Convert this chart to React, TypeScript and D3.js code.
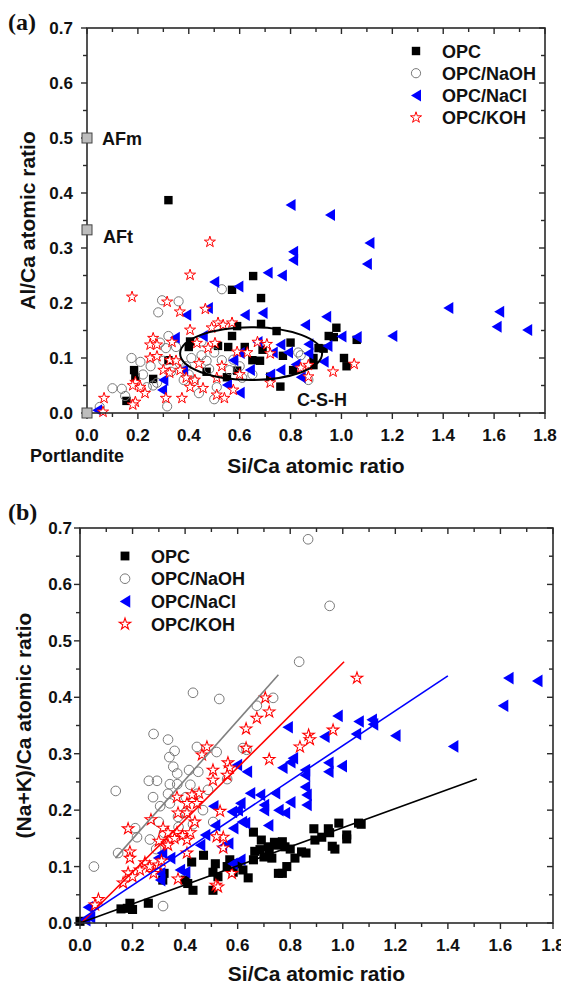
import React from "react";
import * as d3 from "d3";

// ---------- Panel (a): Al/Ca vs Si/Ca ----------
const aOPC: [number, number][] = [
  [0.32,0.387],[0.653,0.249],[0.57,0.224],[0.684,0.209],[0.684,0.162],[0.59,0.158],[0.745,0.149],[0.57,0.14],
  [0.405,0.13],[0.40,0.12],[0.515,0.122],[0.555,0.12],[0.69,0.115],[0.80,0.128],[0.65,0.096],[0.59,0.077],
  [0.72,0.066],[0.47,0.075],[0.55,0.065],[0.76,0.048],[0.185,0.078],[0.19,0.065],[0.26,0.062],[0.155,0.022],
  [0.32,0.096],[0.98,0.155],[0.97,0.138],[0.95,0.14],[1.06,0.133],[0.91,0.118],[0.89,0.10],[1.01,0.10],
  [1.02,0.085],[0.89,0.087],[0.77,0.104],[0.81,0.078],[0.93,0.117],[0.62,0.12],[0.68,0.095]
];
const aNaOH: [number, number][] = [
  [0.295,0.205],[0.36,0.203],[0.28,0.183],[0.53,0.225],[0.32,0.14],[0.287,0.128],[0.31,0.118],[0.35,0.12],
  [0.21,0.093],[0.175,0.1],[0.137,0.044],[0.15,0.031],[0.10,0.045],[0.315,0.012],[0.05,0.011],[0.45,0.105],
  [0.47,0.095],[0.44,0.036],[0.51,0.047],[0.50,0.025],[0.53,0.096],[0.365,0.09],[0.39,0.085],[0.26,0.05],
  [0.235,0.047],[0.275,0.055],[0.575,0.097],[0.61,0.064],[0.56,0.078],[0.83,0.11],[0.87,0.06],[0.84,0.105],
  [0.40,0.07],[0.42,0.058],[0.48,0.08],[0.33,0.075],[0.38,0.06],[0.25,0.085],[0.22,0.07],[0.45,0.13],
  [0.50,0.11],[0.6,0.085],[0.65,0.07],[0.3,0.095],[0.41,0.1]
];
const aNaCl: [number, number][] = [
  [0.80,0.378],[0.955,0.36],[1.11,0.309],[1.10,0.271],[0.81,0.293],[0.81,0.278],[0.766,0.25],[0.71,0.255],
  [1.42,0.191],[1.62,0.184],[1.61,0.157],[1.73,0.151],[1.20,0.14],[1.0,0.139],[1.06,0.138],[0.94,0.175],
  [0.857,0.16],[0.945,0.122],[0.93,0.093],[0.87,0.108],[0.50,0.238],[0.475,0.191],[0.39,0.178],[0.345,0.137],
  [0.455,0.14],[0.595,0.23],[0.62,0.178],[0.69,0.182],[0.67,0.129],[0.76,0.124],[0.60,0.109],[0.73,0.11],
  [0.79,0.11],[0.575,0.096],[0.64,0.078],[0.76,0.078],[0.72,0.07],[0.60,0.037],[0.30,0.06],[0.295,0.042],
  [0.04,0.005],[0.55,0.051],[0.378,0.078],[0.87,0.125],[0.82,0.088],[0.84,0.065]
];
const aKOH: [number, number][] = [
  [0.483,0.311],[0.405,0.251],[0.177,0.211],[0.315,0.202],[0.365,0.184],[0.465,0.189],[0.405,0.151],[0.515,0.164],
  [0.535,0.16],[0.49,0.155],[0.57,0.164],[0.503,0.127],[0.432,0.127],[0.476,0.118],[0.26,0.136],[0.248,0.124],
  [0.275,0.124],[0.334,0.129],[0.248,0.1],[0.275,0.103],[0.326,0.096],[0.30,0.078],[0.325,0.073],[0.366,0.078],
  [0.39,0.064],[0.424,0.06],[0.456,0.045],[0.405,0.047],[0.19,0.056],[0.18,0.05],[0.21,0.047],[0.228,0.036],
  [0.19,0.02],[0.18,0.015],[0.31,0.027],[0.373,0.027],[0.067,0.027],[0.063,0.002],[0.51,0.033],[0.54,0.027],
  [0.51,0.064],[0.575,0.042],[0.67,0.129],[0.707,0.125],[0.63,0.11],[0.72,0.108],[0.84,0.082],[0.87,0.087],
  [0.87,0.066],[0.967,0.075],[1.05,0.089],[0.72,0.055],[0.59,0.111],[0.35,0.095],[0.44,0.09],[0.53,0.085],[0.6,0.07]
];
const refPhases = ["AFm", "AFt", "Portlandite"];
const refAlCa = [0.5, 0.333, 0.0];
// C-S-H ellipse: centre x, centre y, radius x, radius y (data units)
const cshEllipse = [0.645, 0.108, 0.279, 0.048];

// ---------- Panel (b): (Na+K)/Ca vs Si/Ca ----------
const bOPC: [number, number][] = [
  [0.156,0.025],[0.18,0.026],[0.19,0.035],[0.20,0.024],[0.26,0.035],[0.32,0.088],[0.315,0.076],[0.425,0.108],
  [0.40,0.076],[0.41,0.07],[0.43,0.058],[0.47,0.12],[0.506,0.09],[0.515,0.105],[0.525,0.082],[0.506,0.058],
  [0.56,0.1],[0.57,0.112],[0.583,0.09],[0.60,0.105],[0.62,0.094],[0.64,0.08],[0.66,0.161],[0.66,0.112],
  [0.665,0.127],[0.685,0.13],[0.69,0.147],[0.70,0.117],[0.716,0.135],[0.72,0.13],[0.73,0.115],[0.74,0.143],
  [0.75,0.138],[0.755,0.088],[0.77,0.144],[0.78,0.135],[0.80,0.131],[0.787,0.1],[0.77,0.088],[0.818,0.115],
  [0.843,0.126],[0.86,0.124],[0.89,0.167],[0.894,0.147],[0.92,0.152],[0.945,0.167],[0.95,0.16],[0.96,0.136],
  [0.97,0.131],[0.985,0.177],[1.015,0.156],[1.015,0.149],[1.06,0.177],[1.07,0.175],[0.0,0.003]
];
const bNaOH: [number, number][] = [
  [0.868,0.68],[0.95,0.562],[0.834,0.463],[0.43,0.408],[0.53,0.397],[0.673,0.385],[0.735,0.399],[0.28,0.335],
  [0.335,0.325],[0.445,0.312],[0.36,0.305],[0.34,0.294],[0.355,0.277],[0.37,0.265],[0.415,0.271],[0.45,0.268],
  [0.52,0.303],[0.62,0.31],[0.634,0.307],[0.136,0.234],[0.262,0.252],[0.293,0.252],[0.342,0.246],[0.37,0.246],
  [0.42,0.245],[0.278,0.223],[0.335,0.229],[0.305,0.207],[0.342,0.212],[0.30,0.179],[0.373,0.188],[0.375,0.17],
  [0.468,0.2],[0.487,0.236],[0.445,0.229],[0.403,0.223],[0.507,0.179],[0.21,0.168],[0.217,0.152],[0.266,0.148],
  [0.29,0.131],[0.145,0.124],[0.053,0.1],[0.316,0.03],[0.40,0.195],[0.32,0.16],[0.43,0.175],[0.56,0.255]
];
const bNaCl: [number, number][] = [
  [1.63,0.434],[1.74,0.429],[1.61,0.385],[1.42,0.313],[0.98,0.367],[1.06,0.357],[1.11,0.36],[1.115,0.352],
  [1.20,0.332],[0.79,0.347],[0.93,0.33],[1.05,0.335],[0.81,0.292],[0.77,0.275],[0.80,0.285],[0.856,0.271],
  [0.856,0.262],[0.945,0.284],[0.945,0.268],[0.996,0.278],[0.635,0.268],[0.597,0.28],[0.647,0.23],[0.685,0.227],
  [0.742,0.23],[0.856,0.241],[0.862,0.227],[0.862,0.209],[0.80,0.214],[0.755,0.2],[0.78,0.195],[0.70,0.209],
  [0.70,0.2],[0.716,0.173],[0.61,0.212],[0.628,0.177],[0.61,0.112],[0.507,0.207],[0.578,0.197],[0.60,0.2],
  [0.616,0.179],[0.514,0.173],[0.476,0.156],[0.457,0.138],[0.54,0.135],[0.564,0.141],[0.38,0.094],[0.40,0.09],
  [0.312,0.124],[0.297,0.115],[0.305,0.088],[0.305,0.076],[0.343,0.115],[0.038,0.01],[0.02,0.005],[0.03,0.028],
  [0.583,0.168],[0.58,0.105]
];
const bKOH: [number, number][] = [
  [1.054,0.434],[0.705,0.399],[0.72,0.374],[0.673,0.363],[0.632,0.344],[0.632,0.31],[0.87,0.333],[0.875,0.325],
  [0.963,0.342],[0.837,0.312],[0.72,0.29],[0.483,0.312],[0.464,0.298],[0.563,0.284],[0.57,0.275],[0.506,0.271],
  [0.506,0.253],[0.56,0.262],[0.369,0.223],[0.426,0.227],[0.453,0.23],[0.407,0.212],[0.445,0.212],[0.373,0.195],
  [0.407,0.195],[0.437,0.179],[0.533,0.198],[0.27,0.183],[0.316,0.168],[0.335,0.16],[0.369,0.16],[0.39,0.155],
  [0.407,0.147],[0.42,0.16],[0.36,0.15],[0.33,0.14],[0.335,0.138],[0.30,0.145],[0.183,0.167],[0.19,0.126],
  [0.19,0.115],[0.247,0.107],[0.265,0.1],[0.228,0.094],[0.28,0.088],[0.183,0.089],[0.2,0.082],[0.164,0.071],
  [0.07,0.042],[0.057,0.032],[0.373,0.078],[0.517,0.067],[0.525,0.064],[0.578,0.088],[0.545,0.152],[0.52,0.153],
  [0.545,0.133],[0.407,0.124],[0.297,0.103],[0.31,0.11]
];
// linear fits: [x start, y start, x end, y end]
const fitNaOH = [0.135, 0.115, 0.755, 0.44];
const fitKOH = [0.005, 0.0, 1.005, 0.463];
const fitNaCl = [0.0, 0.005, 1.40, 0.438];
const fitOPC = [0.0, 0.0, 1.51, 0.255];

const seriesNames = ["OPC", "OPC/NaOH", "OPC/NaCl", "OPC/KOH"];
const xTickValues = [0, 0.2, 0.4, 0.6, 0.8, 1.0, 1.2, 1.4, 1.6, 1.8];
const yTickValues = [0, 0.1, 0.2, 0.3, 0.4, 0.5, 0.6, 0.7];

const FONT = "'Liberation Sans', Arial, sans-serif";
const fmt = d3.format(".1f");
const starPath = d3.symbol(d3.symbolStar, 38)()!;

type Kind = "sq" | "circ" | "tri" | "star";
function Marker({ kind, x, y, s = 1 }: { kind: Kind; x: number; y: number; s?: number }) {
  if (kind === "sq") {
    const h = 4.2 * s;
    return <rect x={x - h} y={y - h} width={2 * h} height={2 * h} fill="#000" />;
  }
  if (kind === "circ") {
    return <circle cx={x} cy={y} r={4.6 * s} fill="none" stroke="#7a7a7a" strokeWidth={1} />;
  }
  if (kind === "tri") {
    const w = 5 * s, hh = 6 * s;
    return <path d={`M${x - w},${y}L${x + w},${y - hh}L${x + w},${y + hh}Z`} fill="#0000ff" />;
  }
  return <path d={starPath} transform={`translate(${x},${y}) scale(${s})`} fill="#fff" stroke="#ff0000" strokeWidth={1} />;
}

function Axes({ x, y, labelGap, xTitle, yTitle, yTitleX, xTitleY }: any) {
  const [x0, x1] = x.range();
  const [y0, y1] = y.range(); // y0 bottom, y1 top
  const minorX = d3.range(0, 19).map((i) => i / 10);
  const minorY = d3.range(0, 15).map((i) => i / 20);
  const col = "#2a2a2a";
  return (
    <g>
      <rect x={x0} y={y1} width={x1 - x0} height={y0 - y1} fill="none" stroke={col} strokeWidth={1.6} />
      {minorX.map((v, i) => {
        const major = i % 2 === 0;
        const L = major ? 6 : 4;
        const px = x(v);
        return (
          <g key={"x" + i}>
            <line x1={px} x2={px} y1={y0} y2={y0 + L} stroke={col} strokeWidth={1.4} />
            <line x1={px} x2={px} y1={y1} y2={y1 + L} stroke={col} strokeWidth={1.4} />
          </g>
        );
      })}
      {minorY.map((v, i) => {
        const major = i % 2 === 0;
        const L = major ? 6 : 4;
        const py = y(v);
        return (
          <g key={"y" + i}>
            <line x1={x0 - L} x2={x0} y1={py} y2={py} stroke={col} strokeWidth={1.4} />
            <line x1={x1 - L} x2={x1} y1={py} y2={py} stroke={col} strokeWidth={1.4} />
          </g>
        );
      })}
      {xTickValues.map((v) => (
        <text key={"xl" + v} x={x(v)} y={y0 + 28} textAnchor="middle" fontFamily={FONT} fontWeight="bold" fontSize={17} fill="#111">
          {fmt(v)}
        </text>
      ))}
      {yTickValues.map((v) => (
        <text key={"yl" + v} x={x0 - labelGap} y={y(v) + 6} textAnchor="end" fontFamily={FONT} fontWeight="bold" fontSize={17} fill="#111">
          {fmt(v)}
        </text>
      ))}
      <text x={(x0 + x1) / 2} y={xTitleY} textAnchor="middle" fontFamily={FONT} fontWeight="bold" fontSize={21} fill="#111">
        {xTitle}
      </text>
      <text transform={`translate(${yTitleX},${(y0 + y1) / 2}) rotate(-90)`} textAnchor="middle" fontFamily={FONT} fontWeight="bold" fontSize={21} fill="#111">
        {yTitle}
      </text>
    </g>
  );
}

function Legend({ x, y0, dy, s }: { x: number; y0: number; dy: number; s: number }) {
  const kinds: Kind[] = ["sq", "circ", "tri", "star"];
  return (
    <g>
      {seriesNames.map((n, i) => (
        <g key={n}>
          <Marker kind={kinds[i]} x={x} y={y0 + i * dy} s={s} />
          <text x={x + 26} y={y0 + i * dy + 6.5} fontFamily={FONT} fontWeight="bold" fontSize={18} fill="#111">
            {n}
          </text>
        </g>
      ))}
    </g>
  );
}

export default function App() {
  const xA = d3.scaleLinear().domain([0, 1.8]).range([87, 545]);
  const yA = d3.scaleLinear().domain([0, 0.7]).range([413, 28]);
  const xB = d3.scaleLinear().domain([0, 1.8]).range([80, 553]);
  const yB = d3.scaleLinear().domain([0, 0.7]).range([923, 528]);

  const pts = (data: [number, number][], kind: Kind, xs: any, ys: any, s: number, key: string) =>
    data.map((d, i) => <Marker key={key + i} kind={kind} x={xs(d[0])} y={ys(d[1])} s={s} />);

  const fitLine = (f: number[], color: string) => (
    <line x1={xB(f[0])} y1={yB(f[1])} x2={xB(f[2])} y2={yB(f[3])} stroke={color} strokeWidth={1.6} />
  );

  const [ecx, ecy, erx, ery] = cshEllipse;

  return (
    <svg width={561} height={984} style={{ position: "absolute", left: 0, top: 0, background: "#fff" }}>
      <rect width={561} height={984} fill="#fff" />
      {/* Panel (a) */}
      <text x={8} y={30} fontFamily="'Liberation Serif', 'Times New Roman', serif" fontWeight="bold" fontSize={24} fill="#111">(a)</text>
      {pts(aOPC, "sq", xA, yA, 1, "ao")}
      {pts(aNaOH, "circ", xA, yA, 1, "an")}
      {pts(aNaCl, "tri", xA, yA, 1, "ac")}
      {pts(aKOH, "star", xA, yA, 1, "ak")}
      <ellipse cx={xA(ecx)} cy={yA(ecy)} rx={xA(ecx + erx) - xA(ecx)} ry={yA(ecy) - yA(ecy + ery)} fill="none" stroke="#000" strokeWidth={2} />
      <Axes x={xA} y={yA} labelGap={14} xTitle="Si/Ca atomic ratio" yTitle="Al/Ca atomic ratio" yTitleX={35} xTitleY={473} />
      {refAlCa.map((v, i) => (
        <rect key={"ref" + i} x={xA(0) - 5} y={yA(v) - 5} width={10} height={10} fill="#bdbdbd" stroke="#444" strokeWidth={1} />
      ))}
      <text x={102} y={yA(refAlCa[0]) + 7} fontFamily={FONT} fontWeight="bold" fontSize={18} fill="#111">{refPhases[0]}</text>
      <text x={103} y={yA(refAlCa[1]) + 13} fontFamily={FONT} fontWeight="bold" fontSize={18} fill="#111">{refPhases[1]}</text>
      <text x={30} y={462} fontFamily={FONT} fontWeight="bold" fontSize={18} fill="#111">{refPhases[2]}</text>
      <text x={297} y={406} fontFamily={FONT} fontWeight="bold" fontSize={18} fill="#111">C-S-H</text>
      <Legend x={416} y0={51} dy={22.2} s={1} />

      {/* Panel (b) */}
      <text x={8} y={520} fontFamily="'Liberation Serif', 'Times New Roman', serif" fontWeight="bold" fontSize={24} fill="#111">(b)</text>
      {pts(bOPC, "sq", xB, yB, 1.08, "bo")}
      {pts(bNaOH, "circ", xB, yB, 1.05, "bn")}
      {pts(bNaCl, "tri", xB, yB, 1.05, "bc")}
      {pts(bKOH, "star", xB, yB, 1.05, "bk")}
      {fitLine(fitNaOH, "#808080")}
      {fitLine(fitKOH, "#ff0000")}
      {fitLine(fitNaCl, "#0000ff")}
      {fitLine(fitOPC, "#000000")}
      <Axes x={xB} y={yB} labelGap={8} xTitle="Si/Ca atomic ratio" yTitle="(Na+K)/Ca atomic ratio" yTitleX={31} xTitleY={981} />
      <Legend x={125} y0={556} dy={22.7} s={1.05} />
    </svg>
  );
}
